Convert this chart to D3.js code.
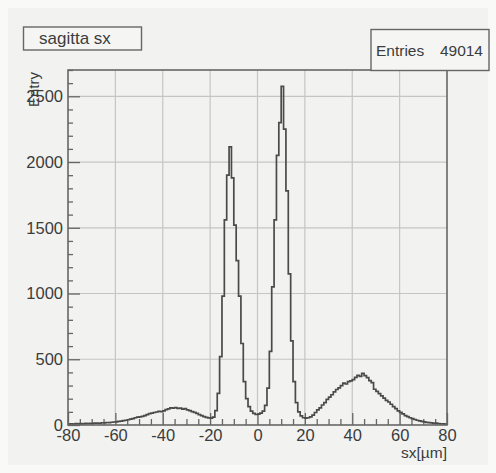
<!DOCTYPE html>
<html>
<head>
<meta charset="utf-8">
<script src="https://cdn.jsdelivr.net/npm/d3@7"></script>
<style>
	body { margin: 0; background: #f9f9f8; }
	svg { display: block; font-family: "Liberation Sans", Arial, sans-serif; }
	.tick text { font-size: 16.5px; fill: #3c3c3c; }
	.tick line { stroke: #666; stroke-width: 1.3; }
</style>
</head>
<body>
<div id="chart"></div>
<script>

// Histogram binning (1 um per bin).
const binLow = -80,
	binWidth = 1;

// Bin contents, from sx = -80 up to sx = 80.
const counts = [
	7, 9, 6, 10, 8, 11, 9, 12, 10, 13,
	12, 14, 15, 13, 17, 16, 19, 18, 21, 23,
	24, 27, 29, 33, 36, 40, 44, 49, 55, 60,
	62, 66, 72, 79, 86, 91, 95, 99, 104, 101,
	108, 117, 122, 131, 128, 133, 126, 129, 121, 124,
	115, 109, 102, 96, 88, 79, 71, 63, 58, 54,
	52, 60,
	110, 240, 520, 980, 1560, 1900, 2115, 1880, 1520, 1250,
	980, 620, 330, 200, 140, 105, 88, 80,
	82, 90, 105, 150, 280, 560, 1050, 1560, 2050, 2300,
	2575, 2250, 1780, 1150, 640, 330, 170, 100, 70, 55,
	52, 55, 62, 75, 95, 115, 130, 152, 170, 195,
	212, 230, 252, 270, 283, 300, 318, 312, 330, 335,
	345, 362, 378, 370, 392, 376, 360, 338, 322, 272,
	255, 238, 222, 205, 188, 175, 158, 140, 125, 108,
	96, 84, 72, 63, 55, 48, 42, 36, 31, 27,
	24, 20, 18, 16, 12, 14, 11, 9, 8, 7
];

// Axis ticks & texts.
const xTicks = [-80, -60, -40, -20, 0, 20, 40, 60, 80],
	yTicks = [0, 500, 1000, 1500, 2000, 2500],
	xMinorStep = 5,
	yMinorStep = 100;

const titleText = "sagitta sx",
	statsName = "Entries",
	statsValue = "49014",
	xTitle = "sx[\u00b5m]",
	yTitle = "Entry";


// Frame of the plot.
const W = 496, H = 473;
let frame = { left: 68, top: 70, right: 447, bottom: 425 };

let svg = d3.select("#chart").append("svg")
	.attr("width", W)
	.attr("height", H);

// canvas background
svg.append("rect")
	.attr("x", 8).attr("y", 8)
	.attr("width", W - 16).attr("height", H - 16)
	.attr("fill", "#f2f3f1");


// Scales
let x = d3.scaleLinear()
	.domain([-80, 80])
	.range([frame.left, frame.right]);

let y = d3.scaleLinear()
	.domain([0, 2700])
	.range([frame.bottom, frame.top]);


// Grid lines at major ticks
let grid = svg.append("g").attr("class", "grid");
grid.selectAll("line.gx")
	.data(xTicks.slice(1, -1))
	.join("line")
	.attr("class", "gx")
	.attr("x1", d => x(d)).attr("x2", d => x(d))
	.attr("y1", frame.top).attr("y2", frame.bottom)
	.attr("stroke", "#c4c6c4")
	.attr("stroke-width", 1.2);
grid.selectAll("line.gy")
	.data(yTicks.slice(1))
	.join("line")
	.attr("class", "gy")
	.attr("x1", frame.left).attr("x2", frame.right)
	.attr("y1", d => y(d)).attr("y2", d => y(d))
	.attr("stroke", "#c4c6c4")
	.attr("stroke-width", 1.2);


// Minor ticks (no labels)
const xMinor = d3.range(-80, 80 + 0.1, xMinorStep).filter(d => d % 20 !== 0);
const yMinor = d3.range(0, 2700 + 0.1, yMinorStep).filter(d => d % 500 !== 0);

svg.append("g")
	.attr("transform", "translate(0," + frame.bottom + ")")
	.call(d3.axisBottom(x).tickValues(xMinor).tickSize(-6).tickFormat(""))
	.call(g => g.select(".domain").remove());
svg.append("g")
	.attr("transform", "translate(" + frame.left + ",0)")
	.call(d3.axisLeft(y).tickValues(yMinor).tickSize(-5).tickFormat(""))
	.call(g => g.select(".domain").remove());

// Major ticks with labels
svg.append("g")
	.attr("transform", "translate(0," + frame.bottom + ")")
	.call(d3.axisBottom(x).tickValues(xTicks).tickSize(-12).tickPadding(4)
		.tickFormat(d => String(d)))
	.call(g => g.select(".domain").remove());
svg.append("g")
	.attr("transform", "translate(" + frame.left + ",0)")
	.call(d3.axisLeft(y).tickValues(yTicks).tickSize(-12).tickPadding(5)
		.tickFormat(d => String(d)))
	.call(g => g.select(".domain").remove());


// Histogram as a step line
let steps = [];
counts.forEach(function(c, i) {
	let lo = binLow + i * binWidth;
	steps.push([lo, c], [lo + binWidth, c]);
});

let line = d3.line()
	.x(d => x(d[0]))
	.y(d => y(d[1]));

svg.append("path")
	.datum(steps)
	.attr("d", line)
	.attr("fill", "none")
	.attr("stroke", "#4a4a4a")
	.attr("stroke-width", 1.7);


// Frame box
svg.append("rect")
	.attr("x", frame.left).attr("y", frame.top)
	.attr("width", frame.right - frame.left)
	.attr("height", frame.bottom - frame.top)
	.attr("fill", "none")
	.attr("stroke", "#666")
	.attr("stroke-width", 1.6);


// Axis titles
svg.append("text")
	.attr("x", frame.right).attr("y", 458)
	.attr("text-anchor", "end")
	.attr("font-size", 15.5)
	.attr("fill", "#3c3c3c")
	.text(xTitle);
svg.append("text")
	.attr("transform", "translate(39," + (frame.top + 2) + ") rotate(-90)")
	.attr("text-anchor", "end")
	.attr("font-size", 15)
	.attr("fill", "#3c3c3c")
	.text(yTitle);


// Title box
let title = svg.append("g");
title.append("rect")
	.attr("x", 23.5).attr("y", 27)
	.attr("width", 118).attr("height", 23)
	.attr("fill", "#f5f6f4")
	.attr("stroke", "#666")
	.attr("stroke-width", 1.4);
title.append("text")
	.attr("x", 39).attr("y", 43.5)
	.attr("font-size", 17)
	.attr("fill", "#3c3c3c")
	.text(titleText);


// Stats box
let stats = svg.append("g");
stats.append("rect")
	.attr("x", 371).attr("y", 29.5)
	.attr("width", 118).attr("height", 41)
	.attr("fill", "#f5f6f4")
	.attr("stroke", "#666")
	.attr("stroke-width", 1.4);
stats.append("text")
	.attr("x", 376).attr("y", 55.5)
	.attr("font-size", 15.5)
	.attr("fill", "#3c3c3c")
	.text(statsName);
stats.append("text")
	.attr("x", 483).attr("y", 55.5)
	.attr("text-anchor", "end")
	.attr("font-size", 15.5)
	.attr("fill", "#3c3c3c")
	.text(statsValue);

</script>
</body>
</html>
